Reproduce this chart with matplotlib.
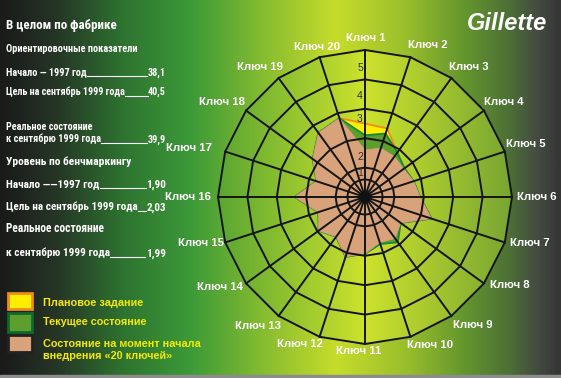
import numpy as np
import matplotlib.pyplot as plt
from matplotlib import font_manager as fm
from matplotlib.colors import LinearSegmentedColormap
from matplotlib.patches import Polygon, Rectangle, Circle

# ---- data ----
keys = ['Ключ %d' % i for i in range(1, 21)]
start_vals = [1.6, 1.75, 1.7, 1.63, 1.74, 1.88, 2.38, 1.5, 1.74, 1.63,
              1.93, 2.14, 1.67, 1.95, 1.67, 2.39, 1.74, 2.2, 2.7, 2.82]
current_vals = [2.1, 2.27, 1.87, 1.66, 1.74, 1.88, 2.38, 1.5, 1.9, 1.68,
                1.93, 2.14, 1.67, 1.95, 1.67, 2.39, 1.74, 2.2, 2.7, 2.82]
plan_vals = [2.5, 2.45, 1.87, 1.66, 1.74, 1.88, 2.38, 1.5, 1.9, 1.68,
             1.93, 2.14, 1.67, 1.95, 1.67, 2.39, 1.74, 2.2, 2.7, 2.82]
rings = [0.6, 1, 2, 3, 4, 5]
scale_labels = ['1', '2', '3', '4', '5']
scale_pos = [0.82, 1.37, 2.65, 3.45, 4.4]

legend_labels = ['Плановое задание', 'Текущее состояние',
                 'Состояние на момент начала\nвнедрения «20 ключей»']

# left block: (text, number, baseline y, target text width px)
heads = [('В целом по фабрике', 28.5, 111),
         ('Ориентировочные показатели', 51.5, 131),
         ('Реальное состояние', 130.5, 87),
         ('Уровень по бенчмаркингу', 165, 125),
         ('Реальное состояние', 231.5, 99)]
rows = [('Начало — 1997 год', '38,1', 75.5, 80),
        ('Цель на сентябрь 1999 года', '40,5', 95, 118),
        ('к сентябрю 1999 года', '39,9', 142.5, 94),
        ('Начало ——1997 год', '1,90', 187.5, 93),
        ('Цель на сентябрь 1999 года', '2,03', 210.5, 132),
        ('к сентябрю 1999 года', '1,99', 256.5, 103)]

W, H = 561, 378
fig = plt.figure(figsize=(W / 100, H / 100), dpi=100)

# pick a narrow font if one is installed
have = {(f.name, f.stretch) for f in fm.fontManager.ttflist}
names = {f.name for f in fm.fontManager.ttflist}
narrow, stretch = 'Liberation Sans', 'normal'
for cand in ['Liberation Sans Narrow', 'Roboto Condensed', 'Open Sans Condensed']:
    if cand in names:
        narrow = cand
        break
else:
    if ('DejaVu Sans', 'condensed') in have or ('DejaVu Sans', 'semi-condensed') in have:
        narrow, stretch = 'DejaVu Sans', 'condensed'

# background gradient
bg = fig.add_axes([0, 0, 1, 1])
bg.set_xlim(0, W)
bg.set_ylim(H, 0)
bg.axis('off')
cmap = LinearSegmentedColormap.from_list('bg', [
    (0.0, '#1a1a1a'), (0.10, '#263626'), (0.22, '#2e7430'), (0.34, '#3c9a38'),
    (0.47, '#86bc30'), (0.60, '#c6dc2a'), (0.72, '#9cc02c'), (0.83, '#64962e'),
    (0.91, '#4c7036'), (0.96, '#444c40'), (1.0, '#363636')])
grad = np.linspace(0, 1, 400).reshape(1, -1)
bg.imshow(grad, cmap=cmap, extent=[0, W, H, 0], aspect='auto', zorder=0)
bg.add_patch(Rectangle((0, 375), W, 3, color='#8c8c8c', zorder=1))

# radar axes: center (365,197) px, 29.4 px per unit
cx, cy, u = 365, 197, 29.4
half = 6 * u
ax = fig.add_axes([(cx - half) / W, (H - cy - half) / H, 2 * half / W, 2 * half / H])
ax.set_xlim(-6, 6)
ax.set_ylim(-6, 6)
ax.axis('off')
ax.patch.set_alpha(0)

n = len(keys)
theta = np.deg2rad(90 - 18 * np.arange(n))


def xy(vals):
    v = np.asarray(vals)
    return np.column_stack([v * np.cos(theta), v * np.sin(theta)])


# lighter fill inside radar
outer = Polygon(xy([rings[-1]] * n), closed=True, facecolor='none', edgecolor='none')
ax.add_patch(outer)
cmap2 = LinearSegmentedColormap.from_list('in', [
    (0.0, '#5aa632'), (0.5, '#cde22c'), (1.0, '#78a632')])
im = ax.imshow(np.linspace(0, 1, 200).reshape(1, -1), cmap=cmap2,
               extent=[-5, 5, -5, 5], aspect='auto', zorder=1)
im.set_clip_path(outer)

ax.add_patch(Polygon(xy(plan_vals), closed=True, facecolor='#ffee00',
                     edgecolor='#f08a1c', lw=1.3, zorder=2))
ax.add_patch(Polygon(xy(current_vals), closed=True, facecolor='#5e9e2c',
                     edgecolor='#128a40', lw=1.3, zorder=3))
ax.add_patch(Polygon(xy(start_vals), closed=True, facecolor='#d8a27a',
                     edgecolor='#d8a27a', lw=0.5, zorder=4))

# grid
for r in rings:
    pts = xy([r] * n)
    pts = np.vstack([pts, pts[:1]])
    ax.plot(pts[:, 0], pts[:, 1], color='#151515', lw=1.4, zorder=5)
for t in theta:
    ax.plot([0, 5 * np.cos(t)], [0, 5 * np.sin(t)], color='#151515', lw=1.4, zorder=5)
ax.add_patch(Circle((0, 0), 0.18, color='#111111', zorder=6))

for lab, p in zip(scale_labels, scale_pos):
    ax.text(-0.17, p, lab, ha='center', va='center', fontsize=7.5,
            color='#333333', zorder=7, family='Liberation Sans')

# key labels (pixel positions, alignment)
key_pos = [(366, 38, 'center'), (428, 45, 'center'), (469, 67, 'center'),
           (504, 102, 'center'), (506, 144, 'left'), (517, 197, 'left'),
           (510, 243, 'left'), (510, 285, 'center'), (473, 325, 'center'),
           (430, 345, 'center'), (359, 351, 'center'), (300, 344, 'center'),
           (258, 326, 'center'), (243, 287, 'right'), (224, 243, 'right'),
           (211, 197, 'right'), (212, 148, 'right'), (245, 102, 'right'),
           (260, 67, 'center'), (317, 47, 'center')]
for k, (px, py, al) in zip(keys, key_pos):
    bg.text(px, py, k, ha=al, va='center', color='white', fontsize=8.2,
            fontweight='bold', family='Liberation Sans', zorder=10)

# Gillette logo
bg.text(507, 23, 'Gillette', ha='center', va='center', color='white',
        fontsize=17, fontweight='bold', style='italic',
        family='Liberation Sans', zorder=10)

# left text block, sized to the reference widths
fig.canvas.draw()
rend = fig.canvas.get_renderer()


def fit(txt, target):
    w = txt.get_window_extent(rend).width
    txt.set_fontsize(txt.get_fontsize() * target / w)


for lab, y, tw in heads:
    t = bg.text(6, y, lab, color='white', fontsize=9, fontweight='bold',
                family=narrow, fontstretch=stretch, va='baseline', zorder=10)
    fit(t, tw)

pairs = []
for lab, num, y, tw in rows:
    t1 = bg.text(6, y, lab, color='white', fontsize=9, fontweight='bold',
                 family=narrow, fontstretch=stretch, va='baseline', zorder=10)
    t2 = bg.text(166, y, num, color='white', fontsize=9, fontweight='bold',
                 family=narrow, fontstretch=stretch, va='baseline', ha='right', zorder=10)
    fit(t1, tw)
    t2.set_fontsize(t1.get_fontsize())
    pairs.append((t1, t2, y))

fig.canvas.draw()
inv = bg.transData.inverted()
for t1, t2, y in pairs:
    x0 = inv.transform(t1.get_window_extent(rend).get_points())[1, 0]
    x1 = inv.transform(t2.get_window_extent(rend).get_points())[0, 0]
    bg.plot([x0 + 0.5, x1 - 0.5], [y + 0.8, y + 0.8], color='white', lw=0.8, zorder=10)

# legend
box_y = [293, 313, 335]
box_h = [16, 19, 17]
faces = ['#ffee00', '#5e9e2c', '#d8a27a']
edges = ['#f08a1c', '#0e6a2c', '#222222']
for yb, hb, fc, ec in zip(box_y, box_h, faces, edges):
    bg.add_patch(Rectangle((8, yb), 24, hb, facecolor=fc, edgecolor=ec, lw=2, zorder=10))
leg_y = [302.5, 322, 350]
for lab, yl in zip(legend_labels, leg_y):
    bg.text(43, yl, lab, color='#f5ea00', fontsize=7.8, fontweight='bold',
            family='Liberation Sans', va='center', linespacing=1.15, zorder=10)

fig.savefig('out.png', dpi=100)
